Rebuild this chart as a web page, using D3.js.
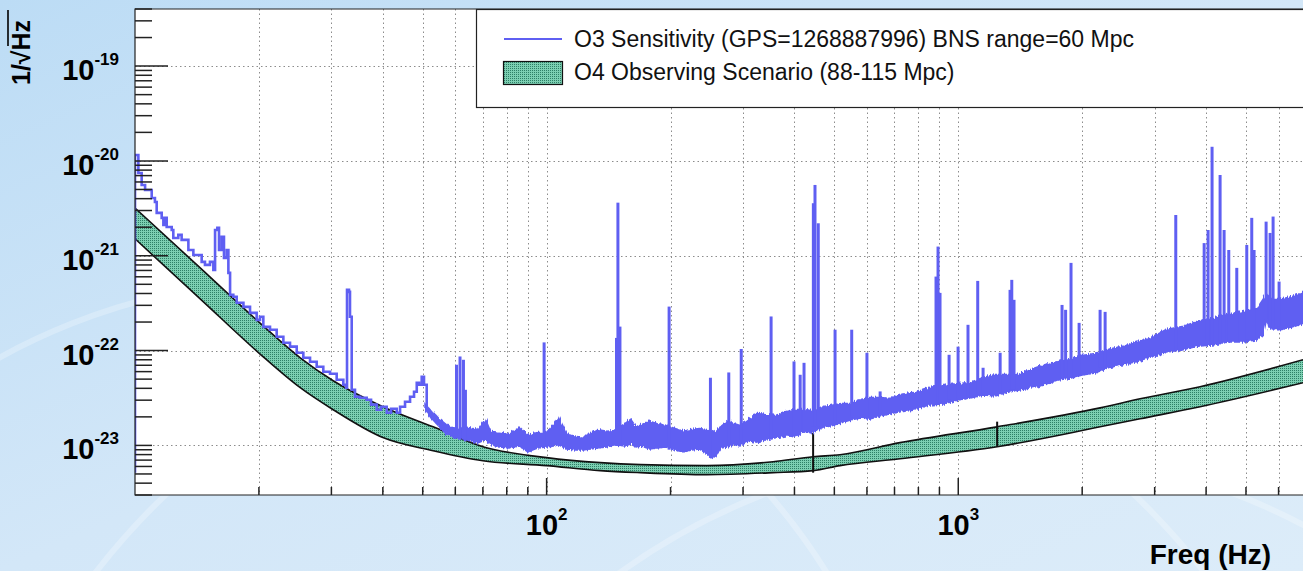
<!DOCTYPE html>
<html>
<head>
<meta charset="utf-8">
<script src="https://cdn.jsdelivr.net/npm/d3@7"></script>
<style>
html, body { margin: 0; padding: 0; overflow: hidden; background: #cfe5f7; }
#chart { width: 1303px; height: 571px; }
text { font-family: "Liberation Sans", Arial, sans-serif; }
</style>
</head>
<body>
<div id="chart"></div>
<script>
// O4 observing scenario band (upper / lower edge)
const o4Freq = [10, 14.4, 20.1, 25.2, 30.3, 40, 53, 70, 100, 135, 169, 245, 355, 444, 516, 722, 1243, 2211, 2765, 3868, 6880];
const o4High = [3.19e-21, 7.45e-22, 1.96e-22, 8.4e-23, 4.81e-23, 2.56e-23, 1.57e-23, 9.7e-24, 7.43e-24, 6.58e-24, 6.27e-24, 6.12e-24, 6.73e-24, 7.6e-24, 7.98e-24, 1.07e-23, 1.57e-23, 2.49e-23, 3.1e-23, 4.16e-23, 8.0e-23];
const o4Low = [1.51e-21, 3.51e-22, 9.25e-23, 4.06e-23, 2.38e-23, 1.21e-23, 8.8e-24, 6.9e-24, 6.12e-24, 5.42e-24, 5.16e-24, 4.92e-24, 5.16e-24, 5.42e-24, 6.12e-24, 7.24e-24, 9.7e-24, 1.57e-23, 1.91e-23, 2.56e-23, 4.58e-23];
// small line features on the O4 curve: freq, top, bottom
const o4LineFreq = [444, 1243];
const o4LineTop = [1.36e-23, 1.78e-23];
const o4LineBottom = [5.16e-24, 9.69e-24];

// O3 sensitivity, low frequency part (single trace)
const o3LineFreq = [10, 10, 10.19, 10.38, 10.58, 10.87, 10.98, 11.18, 11.29, 11.61, 11.72, 11.83, 11.94, 12.28, 12.39, 12.74, 12.98, 13.48, 13.86, 14.25, 14.52, 14.79, 15.21, 15.5, 15.65, 15.85, 16.0, 16.24, 16.45, 16.71, 16.86, 17.02, 17.33, 17.66, 18.34, 19.03, 19.75, 20.12, 20.5, 21.28, 22.09, 22.93, 23.8, 24.71, 25.64, 26.62, 27.63, 28.67, 29.77, 30.9, 32.07, 32.56, 32.74, 33.11, 33.29, 33.61, 34.23, 35.2, 36.55, 37.45, 38.66, 39.6, 40.88, 41.88, 43.24, 44.05, 45.29, 46.58, 47.63, 48.36, 48.98, 49.72, 50.36, 51.13];
const o3LineAsd = [5.16e-24, 1.155e-20, 7.46e-21, 5.58e-21, 4.94e-21, 4.94e-21, 4.07e-21, 3.69e-21, 2.83e-21, 2.51e-21, 2.11e-21, 2.51e-21, 2.01e-21, 1.87e-21, 1.54e-21, 1.66e-21, 1.47e-21, 1.15e-21, 1.02e-21, 1.02e-21, 8.62e-22, 8.01e-22, 8.62e-22, 7.09e-22, 1.87e-21, 1.97e-21, 1.15e-21, 1.58e-21, 9.5e-22, 1.15e-21, 6.6e-22, 3.87e-22, 3.69e-22, 3.19e-22, 2.89e-22, 2.5e-22, 2.11e-22, 2.27e-22, 1.78e-22, 1.66e-22, 1.4e-22, 1.21e-22, 1.1e-22, 9.48e-23, 8.39e-23, 7.62e-23, 6.75e-23, 5.98e-23, 5.69e-23, 4.92e-23, 4.36e-23, 4.06e-23, 4.37e-22, 4.16e-22, 2.27e-22, 3.86e-23, 3.26e-23, 3.18e-23, 3.03e-23, 2.69e-23, 2.38e-23, 2.56e-23, 2.21e-23, 2.44e-23, 2.21e-23, 2.56e-23, 2.89e-23, 3.26e-23, 3.68e-23, 4.58e-23, 4.36e-23, 5.3e-23, 4.36e-23, 2.56e-23];

// O3 noise floor above ~50 Hz (upper / lower envelope)
const o3BandFreq = [51, 53, 55, 57, 59, 60.8, 64, 68, 71, 73, 77, 81, 86, 90, 95, 100, 104, 107, 112, 118, 122, 128, 133, 140, 146, 155, 160, 165, 170, 178, 185, 195, 205, 215, 225, 235, 245, 255, 265, 275, 285, 295, 310, 325, 340, 360, 380, 400, 420, 440, 470, 490, 520, 550, 580, 610, 650, 680, 720, 780, 850, 920, 1000, 1070, 1150, 1230, 1300, 1400, 1500, 1620, 1750, 1880, 2000, 2150, 2300, 2500, 2700, 2950, 3200, 3500, 3800, 4150, 4500, 4900, 5300, 5500, 5600, 5750, 6000, 6500, 7000];
const o3BandHigh = [2.69e-23, 2.21e-23, 1.87e-23, 1.65e-23, 1.54e-23, 1.5e-23, 1.54e-23, 1.46e-23, 1.87e-23, 1.4e-23, 1.36e-23, 1.3e-23, 1.54e-23, 1.27e-23, 1.36e-23, 1.36e-23, 1.65e-23, 1.96e-23, 1.3e-23, 1.24e-23, 1.21e-23, 1.33e-23, 1.46e-23, 1.4e-23, 1.43e-23, 1.69e-23, 1.87e-23, 1.54e-23, 1.65e-23, 1.78e-23, 1.69e-23, 1.61e-23, 1.5e-23, 1.4e-23, 1.46e-23, 1.5e-23, 1.46e-23, 1.36e-23, 1.57e-23, 1.78e-23, 1.69e-23, 1.61e-23, 1.87e-23, 2.16e-23, 2.11e-23, 2.06e-23, 2.26e-23, 2.38e-23, 2.38e-23, 2.32e-23, 2.56e-23, 2.62e-23, 2.75e-23, 2.75e-23, 3.03e-23, 3.18e-23, 3.18e-23, 3.11e-23, 3.42e-23, 3.59e-23, 4.06e-23, 4.26e-23, 4.47e-23, 4.58e-23, 5.17e-23, 5.56e-23, 5.56e-23, 5.56e-23, 6.28e-23, 7.09e-23, 7.62e-23, 8.0e-23, 8.81e-23, 9.25e-23, 1.02e-22, 1.1e-22, 1.21e-22, 1.36e-22, 1.66e-22, 1.78e-22, 2.01e-22, 2.21e-22, 2.38e-22, 2.56e-22, 2.69e-22, 3.43e-22, 3.87e-22, 3.43e-22, 3.43e-22, 3.69e-22, 4.16e-22];
const o3BandLow = [2.38e-23, 1.87e-23, 1.57e-23, 1.33e-23, 1.24e-23, 1.21e-23, 1.15e-23, 1.07e-23, 1.15e-23, 1.04e-23, 9.69e-24, 9.46e-24, 9.93e-24, 8.59e-24, 9.46e-24, 9.69e-24, 9.93e-24, 1.02e-23, 9.24e-24, 9.02e-24, 9.02e-24, 9.24e-24, 9.46e-24, 9.69e-24, 1.02e-23, 9.93e-24, 1.04e-23, 9.69e-24, 9.93e-24, 9.24e-24, 9.46e-24, 9.69e-24, 9.02e-24, 8.59e-24, 9.02e-24, 9.24e-24, 8.18e-24, 7.43e-24, 9.46e-24, 9.69e-24, 1.02e-23, 9.93e-24, 1.12e-23, 1.09e-23, 1.15e-23, 1.21e-23, 1.27e-23, 1.24e-23, 1.4e-23, 1.36e-23, 1.57e-23, 1.61e-23, 1.74e-23, 1.87e-23, 1.96e-23, 1.91e-23, 2.06e-23, 2.16e-23, 2.26e-23, 2.38e-23, 2.69e-23, 2.75e-23, 3.03e-23, 3.18e-23, 3.42e-23, 3.34e-23, 3.59e-23, 3.86e-23, 4.06e-23, 4.36e-23, 4.92e-23, 5.17e-23, 5.56e-23, 5.83e-23, 6.59e-23, 7.09e-23, 7.62e-23, 8.6e-23, 9.71e-23, 1.02e-22, 1.12e-22, 1.15e-22, 1.24e-22, 1.24e-22, 1.3e-22, 1.47e-22, 2.11e-22, 1.74e-22, 1.66e-22, 1.78e-22, 2.01e-22];

// O3 spectral lines: frequency and peak
const spikeFreq = [60.4, 61.6, 62.8, 63.5, 98.6, 147.8, 149, 150.7, 198.4, 250, 277, 297, 351, 399, 413, 422, 444.6, 448.7, 457, 502, 551, 600, 646, 883, 893, 903, 950, 999, 1056, 1115, 1149, 1264, 1336, 1349, 1366, 1787, 1823, 1879, 1966, 2211, 2274, 3376, 3957, 4045, 4136, 4326, 4424, 4541, 4749, 5022, 5164, 5232, 5596, 5722, 5819, 6017];
const spikePeak = [7.09e-23, 8.67e-23, 8.0e-23, 3.86e-23, 1.22e-22, 1.36e-22, 3.63e-21, 1.79e-22, 2.91e-22, 5.17e-23, 5.88e-23, 1.04e-22, 2.29e-22, 7.68e-23, 5.56e-23, 7.43e-23, 3.58e-21, 5.58e-21, 2.2e-21, 1.66e-22, 1.66e-22, 9.48e-23, 3.71e-23, 6.03e-22, 1.25e-21, 4.06e-22, 9.03e-23, 1.1e-22, 1.87e-22, 5.43e-22, 6.59e-23, 9.48e-23, 4.37e-22, 5.57e-22, 3.43e-22, 3.03e-22, 2.69e-22, 8.41e-22, 1.96e-22, 2.69e-22, 2.56e-22, 2.69e-21, 1.36e-21, 1.87e-21, 1.41e-20, 7.11e-21, 1.87e-21, 1.15e-21, 7.45e-22, 1.3e-21, 2.51e-21, 1.15e-21, 2.29e-21, 1.74e-21, 2.59e-21, 5.34e-22];

// axis labels
const xLabelValues = [100, 1000];
const xLabelExps = ["2", "3"];
const yLabelValues = [1e-19, 1e-20, 1e-21, 1e-22, 1e-23];
const yLabelExps = ["-19", "-20", "-21", "-22", "-23"];
const legendLabels = ["O3 Sensitivity (GPS=1268887996) BNS range=60 Mpc", "O4 Observing Scenario (88-115 Mpc)"];

const W = 1303, H = 571;
const blue = "#5f5ff2";

const x = d3.scaleLog().domain([10, 8000]).range([135, 1330]);
const y = d3.scaleLog().domain([3e-24, 4e-19]).range([495, 9]);
const [x0, x1] = x.range();
const [yb, yt] = y.range();

const svg = d3.select("#chart").append("svg")
    .attr("width", W)
    .attr("height", H);

const defs = svg.append("defs");

const bg = defs.append("linearGradient").attr("id", "bg")
    .attr("x1", "0").attr("y1", "0").attr("x2", "1").attr("y2", "1");
bg.append("stop").attr("offset", "0%").attr("stop-color", "#bcdcf5");
bg.append("stop").attr("offset", "50%").attr("stop-color", "#d3e7f8");
bg.append("stop").attr("offset", "100%").attr("stop-color", "#dcecf9");

const pat = defs.append("pattern").attr("id", "dots")
    .attr("width", 2).attr("height", 2)
    .attr("patternUnits", "userSpaceOnUse");
pat.append("rect").attr("width", 2).attr("height", 2).attr("fill", "#7ccfb2");
pat.append("rect").attr("width", 1).attr("height", 1).attr("fill", "#2e7f66");

// jagged edge texture for the noisy O3 trace
const rough = defs.append("filter").attr("id", "rough")
    .attr("x", "-0.01").attr("y", "-0.2").attr("width", "1.02").attr("height", "1.4");
rough.append("feTurbulence")
    .attr("type", "fractalNoise")
    .attr("baseFrequency", "0.7 0.04")
    .attr("numOctaves", 1)
    .attr("seed", 4)
    .attr("result", "n");
rough.append("feDisplacementMap")
    .attr("in", "SourceGraphic").attr("in2", "n")
    .attr("scale", 6)
    .attr("xChannelSelector", "B").attr("yChannelSelector", "G");

defs.append("clipPath").attr("id", "plotclip")
    .append("rect")
    .attr("x", x0).attr("y", yt)
    .attr("width", x1 - x0).attr("height", yb - yt);

svg.append("rect").attr("width", W).attr("height", H).attr("fill", "url(#bg)");

// faint swirls in the background
const swirl = svg.append("g").attr("fill", "none").attr("stroke", "#ffffff").attr("stroke-opacity", 0.25);
[[300, 900, 620], [650, 1000, 700], [1000, 1100, 650]].forEach(([cx, cy, r]) => {
    swirl.append("circle").attr("cx", cx).attr("cy", cy).attr("r", r).attr("stroke-width", 6);
});

svg.append("rect")
    .attr("x", x0).attr("y", yt)
    .attr("width", x1 - x0).attr("height", yb - yt)
    .attr("fill", "#ffffff");

const plot = svg.append("g").attr("clip-path", "url(#plotclip)");

// grid
const grid = plot.append("g")
    .attr("stroke", "#8c8c8c")
    .attr("stroke-width", 1)
    .attr("stroke-dasharray", "1.5,3");
grid.selectAll(".gx")
    .data(x.ticks().filter(d => d > 10))
    .enter().append("line")
    .attr("x1", d => Math.round(x(d)) + 0.5).attr("x2", d => Math.round(x(d)) + 0.5)
    .attr("y1", yt).attr("y2", yb);
grid.selectAll(".gy")
    .data(yLabelValues)
    .enter().append("line")
    .attr("x1", x0).attr("x2", x1)
    .attr("y1", d => Math.round(y(d)) + 0.5).attr("y2", d => Math.round(y(d)) + 0.5);

// O4 band
const o4Data = o4Freq.map((f, i) => ({ f, hi: o4High[i], lo: o4Low[i] }));
plot.append("path")
    .datum(o4Data)
    .attr("fill", "url(#dots)")
    .attr("d", d3.area().curve(d3.curveMonotoneX)
        .x(d => x(d.f)).y0(d => y(d.lo)).y1(d => y(d.hi)));
["hi", "lo"].forEach(k => {
    plot.append("path")
        .datum(o4Data)
        .attr("fill", "none")
        .attr("stroke", "#111")
        .attr("stroke-width", 1.6)
        .attr("d", d3.line().curve(d3.curveMonotoneX).x(d => x(d.f)).y(d => y(d[k])));
});
plot.selectAll(".o4line")
    .data(o4LineFreq)
    .enter().append("line")
    .attr("stroke", "#111").attr("stroke-width", 2)
    .attr("x1", d => x(d)).attr("x2", d => x(d))
    .attr("y1", (d, i) => y(o4LineTop[i]))
    .attr("y2", (d, i) => y(o4LineBottom[i]));

// O3 sensitivity
const o3 = plot.append("g");
o3.append("path")
    .datum(o3LineFreq.map((f, i) => ({ f, v: o3LineAsd[i] })))
    .attr("fill", "none")
    .attr("stroke", blue)
    .attr("stroke-width", 2.6)
    .attr("d", d3.line().curve(d3.curveStepAfter).x(d => x(d.f)).y(d => y(d.v)));

const bandData = o3BandFreq.map((f, i) => ({ f, hi: o3BandHigh[i], lo: o3BandLow[i] }));
o3.append("path")
    .datum(bandData)
    .attr("fill", blue)
    .attr("stroke", blue)
    .attr("stroke-width", 2)
    .attr("filter", "url(#rough)")
    .attr("d", d3.area().x(d => x(d.f)).y0(d => y(d.lo)).y1(d => y(d.hi)));

const bisect = d3.bisector(d => d.f).left;
function floorAt(f) {
    const i = Math.min(bandData.length - 1, Math.max(0, bisect(bandData, f)));
    return bandData[i].lo;
}
o3.selectAll(".spike")
    .data(spikeFreq)
    .enter().append("line")
    .attr("stroke", blue)
    .attr("stroke-width", 3)
    .attr("x1", d => x(d)).attr("x2", d => x(d))
    .attr("y1", (d, i) => y(spikePeak[i]))
    .attr("y2", d => y(floorAt(d)));

// frame
svg.append("path")
    .attr("fill", "none")
    .attr("stroke", "#222")
    .attr("stroke-width", 1.2)
    .attr("d", `M${x1},${yt}H${x0}V${yb}H${x1}`);

// ticks
const ticks = svg.append("g").attr("stroke", "#222").attr("stroke-width", 1.5);
ticks.selectAll(".ty")
    .data(y.ticks())
    .enter().append("line")
    .attr("x1", x0)
    .attr("x2", d => x0 + (yLabelValues.includes(d) ? 33 : 17))
    .attr("y1", d => y(d)).attr("y2", d => y(d));
ticks.selectAll(".tx")
    .data(x.ticks().filter(d => d > 10))
    .enter().append("line")
    .attr("x1", d => x(d)).attr("x2", d => x(d))
    .attr("y1", yb)
    .attr("y2", d => yb - (xLabelValues.includes(d) ? 17 : 8));

// tick labels
const labels = svg.append("g").attr("font-weight", "bold").attr("fill", "#000");
yLabelValues.forEach((v, i) => {
    const t = labels.append("text")
        .attr("x", 119).attr("y", y(v) + 14)
        .attr("text-anchor", "end")
        .attr("font-size", 29);
    t.append("tspan").text("10");
    t.append("tspan").attr("dy", -15).attr("font-size", 17).text(yLabelExps[i]);
});
xLabelValues.forEach((v, i) => {
    const t = labels.append("text")
        .attr("x", x(v)).attr("y", 535)
        .attr("text-anchor", "middle")
        .attr("font-size", 29);
    t.append("tspan").text("10");
    t.append("tspan").attr("dy", -15).attr("font-size", 17).text(xLabelExps[i]);
});

svg.append("text")
    .attr("x", 1271).attr("y", 564)
    .attr("text-anchor", "end")
    .attr("font-size", 28)
    .attr("font-weight", "bold")
    .text("Freq (Hz)");

svg.append("text")
    .attr("transform", "translate(30,85) rotate(-90)")
    .attr("font-size", 25)
    .attr("font-weight", "bold")
    .text("1/\u221AHz");
// vinculum of the square root over "Hz"
svg.append("line")
    .attr("x1", 8).attr("x2", 8)
    .attr("y1", 10).attr("y2", 46)
    .attr("stroke", "#000").attr("stroke-width", 1.6);

// legend
const legend = svg.append("g");
legend.append("rect")
    .attr("x", 476.5).attr("y", yt + 0.5)
    .attr("width", 900).attr("height", 98)
    .attr("fill", "#ffffff")
    .attr("stroke", "#222")
    .attr("stroke-width", 1.2);
legend.append("line")
    .attr("x1", 504).attr("x2", 562)
    .attr("y1", 39).attr("y2", 39)
    .attr("stroke", blue).attr("stroke-width", 2);
legend.append("rect")
    .attr("x", 503.5).attr("y", 61.5)
    .attr("width", 59).attr("height", 23)
    .attr("fill", "url(#dots)")
    .attr("stroke", "#111").attr("stroke-width", 1.2);
legendLabels.forEach((s, i) => {
    legend.append("text")
        .attr("x", 574).attr("y", 47 + i * 33)
        .attr("font-size", 23)
        .attr("fill", "#111")
        .text(s);
});
</script>
</body>
</html>
